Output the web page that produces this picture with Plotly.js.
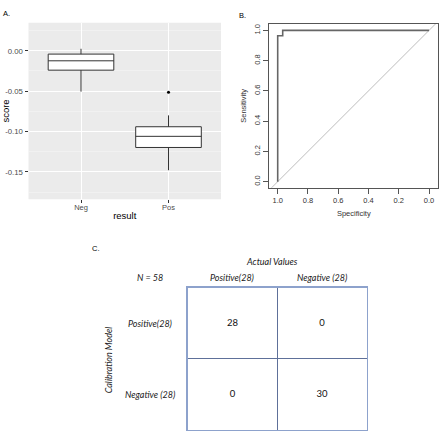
<!DOCTYPE html>
<html><head><meta charset="utf-8">
<script src="https://cdn.plot.ly/plotly-3.0.1.min.js"></script>
<style>html,body{margin:0;padding:0;background:#fff}#chart{width:440px;height:431px}</style>
</head><body><div id="chart"></div>
<script>
// ---- Panel A: boxplot of score by result ----
const groups = ['Neg', 'Pos'];
const q1 = [-0.024, -0.1198];
const medians = [-0.0124, -0.106];
const q3 = [-0.0041, -0.0941];
const lowerWhisker = [-0.0506, -0.148];
const upperWhisker = [0.0025, -0.080];
const outlierGroup = ['Pos'];
const outlierScore = [-0.0514];
const scoreTickVals = [0, -0.05, -0.10, -0.15];
const scoreTickText = ['0.00', '-0.05', '-0.10', '-0.15'];

// ---- Panel B: ROC curve ----
const specificity = [1.0, 1.0, 0.967, 0.967, 0.0];
const sensitivity = [0.0, 0.964, 0.964, 1.0, 1.0];
const diagSpec = [1.2, -0.2];
const diagSens = [-0.2, 1.2];
const rocTickVals = [1.0, 0.8, 0.6, 0.4, 0.2, 0.0];
const rocTickText = ['1.0', '0.8', '0.6', '0.4', '0.2', '0.0'];

// ---- Panel C: confusion matrix ----
const colLabels = ['Positive(28)', 'Negative (28)'];
const rowLabels = ['Positive(28)', 'Negative (28)'];
const matrix = [[28, 0], [0, 30]];
const nLabel = 'N = 58';

const W = 440, H = 431;
const px = v => v / W;
const py = v => 1 - v / H;

const traces = [];
groups.forEach((g, i) => {
  traces.push({
    type: 'box', x: [g], q1: [q1[i]], median: [medians[i]], q3: [q3[i]],
    lowerfence: [lowerWhisker[i]], upperfence: [upperWhisker[i]],
    width: 0.75, whiskerwidth: 0, fillcolor: '#ffffff',
    line: {color: '#333333', width: 1}, boxpoints: false,
    xaxis: 'x', yaxis: 'y', showlegend: false, hoverinfo: 'skip'
  });
});
traces.push({type: 'scatter', mode: 'markers', x: outlierGroup, y: outlierScore,
  marker: {color: '#000', size: 3}, xaxis: 'x', yaxis: 'y', showlegend: false});

traces.push({type: 'scatter', mode: 'lines', x: diagSpec, y: diagSens,
  line: {color: '#bdbdbd', width: 1}, xaxis: 'x2', yaxis: 'y2', showlegend: false});
traces.push({type: 'scatter', mode: 'lines', x: specificity, y: sensitivity,
  line: {color: '#666666', width: 1.6}, xaxis: 'x2', yaxis: 'y2', showlegend: false});

// confusion matrix values
const cx = [], cy = [], ct = [];
matrix.forEach((row, r) => row.forEach((v, c) => { cx.push(c); cy.push(r); ct.push(String(v)); }));
traces.push({type: 'scatter', mode: 'text', x: cx, y: cy, text: ct,
  textfont: {family: 'Lato, sans-serif', size: 9.5, color: '#111111'},
  xaxis: 'x3', yaxis: 'y3', showlegend: false, hoverinfo: 'skip'});

const annotations = [];
const ann = (text, x, y, opts = {}) => annotations.push(Object.assign({
  text, x, y, xref: 'paper', yref: 'paper', showarrow: false,
  xanchor: 'center', yanchor: 'middle'
}, opts));
const lab = () => ({family: 'Liberation Sans, Arial, sans-serif', size: 7.5, color: '#000000'});
const ital = () => ({family: 'Lato, sans-serif', size: 9, color: '#1a1a1a', style: 'italic'});

ann('A.', px(1), py(13), {xanchor: 'left', font: lab()});
ann('B.', px(237), py(15), {xanchor: 'left', font: lab()});
ann('C.', px(90), py(248), {xanchor: 'left', font: lab()});

ann('Actual Values', px(271.7), py(261.7), {font: ital()});
ann(nLabel, px(150), py(277.7), {font: ital()});
colLabels.forEach((t, i) => ann(t, i, py(277.7), {xref: 'x3', font: ital()}));
rowLabels.forEach((t, i) => ann(t, px(150), i, {yref: 'y3', font: ital()}));
ann('Calibration Model', px(108.3), py(360), {textangle: -90, font: ital()});

const layout = {
  width: W, height: H, margin: {l: 0, r: 0, t: 0, b: 0},
  paper_bgcolor: '#fff', plot_bgcolor: '#fff', showlegend: false,
  font: {family: 'Liberation Sans, Arial, sans-serif'},
  xaxis: {domain: [px(28.5), px(221)], type: 'category', categoryarray: groups,
    range: [-0.6, 1.6], showgrid: true, gridcolor: '#ffffff', gridwidth: 1,
    ticks: 'outside', ticklen: 3, tickcolor: '#333', zeroline: false, showline: false,
    ticklabelstandoff: -2,
    tickfont: {size: 7.5, color: '#4d4d4d'},
    title: {text: 'result', font: {size: 9.5, color: '#000'}, standoff: 1}, anchor: 'y'},
  yaxis: {domain: [py(199.3), py(22.7)], range: [-0.184, 0.0348],
    tickvals: scoreTickVals, ticktext: scoreTickText,
    showgrid: true, gridcolor: '#ffffff', gridwidth: 1, zeroline: false,
    minor: {tick0: 0.025, dtick: 0.05, showgrid: true, gridcolor: '#f7f7f7', gridwidth: 0.5},
    ticks: 'outside', ticklen: 3, tickcolor: '#333',
    tickfont: {size: 7.8, color: '#4d4d4d'},
    title: {text: 'score', font: {size: 9.5, color: '#000'}, standoff: 3}, anchor: 'x'},
  xaxis2: {domain: [px(269.3), px(438.3)], range: [1.0555, -0.061],
    tickvals: rocTickVals, ticktext: rocTickText, showgrid: false, zeroline: false,
    showline: true, mirror: true, linecolor: '#555', linewidth: 1,
    ticks: 'outside', ticklen: 5, tickcolor: '#555',
    tickfont: {size: 7.5, color: '#333'},
    title: {text: 'Specificity', font: {size: 7.5, color: '#333'}, standoff: 7}, anchor: 'y2'},
  yaxis2: {domain: [py(187.7), py(24)], range: [-0.04, 1.042],
    tickvals: rocTickVals, ticktext: rocTickText, tickangle: -90, showgrid: false, zeroline: false,
    showline: true, mirror: true, linecolor: '#555', linewidth: 1,
    ticks: 'outside', ticklen: 5, tickcolor: '#555',
    tickfont: {size: 7.5, color: '#333'},
    title: {text: 'Sensitivity', font: {size: 7.5, color: '#333'}, standoff: 5}, anchor: 'x2'},
  xaxis3: {domain: [px(187.7), px(366.7)], range: [-0.5, 1.5],
    tick0: -0.5, dtick: 1, showgrid: true, gridcolor: '#5e7099', gridwidth: 1,
    showticklabels: false, ticks: '', zeroline: false,
    showline: true, mirror: true, linecolor: '#8da2cc', linewidth: 1.5, anchor: 'y3'},
  yaxis3: {domain: [py(430), py(287.7)], range: [1.5, -0.5],
    tick0: -0.5, dtick: 1, showgrid: true, gridcolor: '#5e7099', gridwidth: 1,
    showticklabels: false, ticks: '', zeroline: false,
    showline: true, mirror: true, linecolor: '#8da2cc', linewidth: 1.5, anchor: 'x3'},
  shapes: [{type: 'rect', xref: 'x domain', yref: 'y domain', x0: 0, x1: 1, y0: 0, y1: 1,
    fillcolor: '#ebebeb', line: {width: 0}, layer: 'below'}],
  annotations
};
Plotly.newPlot('chart', traces, layout, {staticPlot: true, displayModeBar: false});
</script></body></html>
